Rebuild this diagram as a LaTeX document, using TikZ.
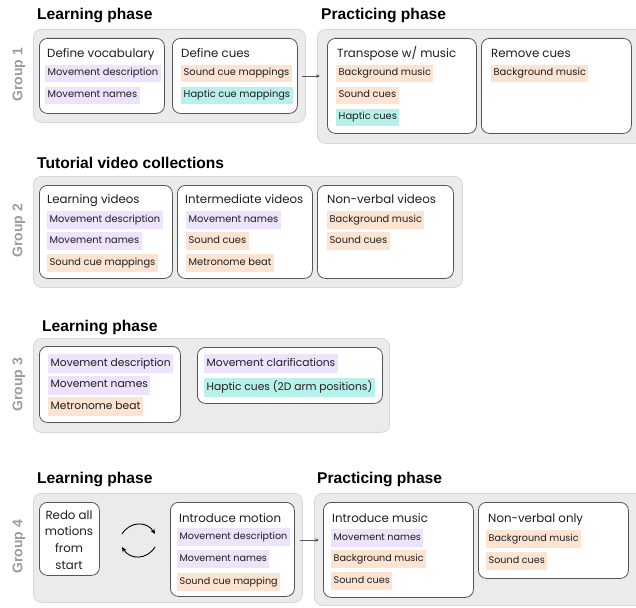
\documentclass[tikz,border=0pt]{standalone}
\usepackage{fontspec}
\setmainfont{Poppins}
\newfontfamily\headfont{Liberation Sans}
\usetikzlibrary{arrows.meta}
\definecolor{grpfill}{HTML}{EBEBEB}
\definecolor{grpdraw}{HTML}{D6D6D6}
\definecolor{carddraw}{HTML}{555555}
\definecolor{purp}{HTML}{EDE3FC}
\definecolor{orng}{HTML}{FDE3D1}
\definecolor{cyanhl}{HTML}{B8F0EC}
\definecolor{lblgray}{HTML}{9B9B9B}
\definecolor{txt}{HTML}{1E1E1E}
\newcommand\mkbox[6]{\node[#2, anchor=north west, minimum width=#5pt, minimum height=#6pt] (#1) at (#3,#4) {};}
\begin{document}
\begin{tikzpicture}[x=1pt,y=-1pt,
  grp/.style={fill=grpfill, draw=grpdraw, line width=0.8pt, rounded corners=8pt, inner sep=0pt},
  card/.style={fill=white, draw=carddraw, line width=0.8pt, rounded corners=8pt, inner sep=0pt},
  head/.style={anchor=base west, inner sep=0pt, font=\headfont\bfseries\fontsize{15.6}{17}\selectfont, text=black},
  grplbl/.style={rotate=90, inner sep=0pt, font=\headfont\bfseries\fontsize{14}{16}\selectfont, text=lblgray},
  ttl/.style={anchor=base west, inner sep=0pt, font=\fontsize{11.8}{13}\selectfont, text=txt},
  hl/.style={anchor=west, inner xsep=2.5pt, inner ysep=0pt, minimum height=17pt, text height=7pt, text depth=2pt, font=\fontsize{9.85}{10}\selectfont, text=txt},
  hlb/.style={hl, minimum height=19pt, font=\fontsize{10.7}{11}\selectfont},
  hlc/.style={hl, minimum height=18pt, font=\fontsize{9.6}{10}\selectfont},
  pu/.style={fill=purp}, or/.style={fill=orng}, cy/.style={fill=cyanhl},
  arr/.style={draw=carddraw, line width=0.8pt, -{Stealth[length=4pt,width=3.5pt]}},
  cyc/.style={draw=black, line width=0.9pt, -{Stealth[length=5pt,width=4.5pt]}}
]
\clip (0,0) rectangle (636,607);
% ---------------- Group 1
\node[head] (h1a) at (37,20) {Learning phase};
\node[head] (h1b) at (321,20) {Practicing phase};
\node[grplbl] (l1) at (19,75) {Group 1};
\mkbox{g1a}{grp}{33}{29}{272}{93}
\mkbox{g1b}{grp}{317}{29}{328}{114}
\mkbox{c1a}{card}{39}{38}{125}{75}
\mkbox{c1b}{card}{172}{38}{125}{75}
\mkbox{c1c}{card}{327}{38}{149}{95}
\mkbox{c1d}{card}{481}{38}{150}{95}
\node[ttl] (t1a) at (47,58) {Define vocabulary};
\node[ttl] (t1b) at (181,58) {Define cues};
\node[ttl] (t1c) at (337,58) {Transpose w/ music};
\node[ttl] (t1d) at (491,58) {Remove cues};
\node[hl,pu] (a11) at (45,73.5) {Movement description};
\node[hl,pu] (a12) at (45,95.5) {Movement names};
\node[hl,or] (a21) at (181,73.5) {Sound cue mappings};
\node[hl,cy] (a22) at (181,95.5) {Haptic cue mappings};
\node[hl,or] (a31) at (336,73.5) {Background music};
\node[hl,or] (a32) at (336,95.5) {Sound cues};
\node[hl,cy] (a33) at (336,117) {Haptic cues};
\node[hl,or] (a41) at (491,73.5) {Background music};
\coordinate (p1s) at (302,76);
\coordinate (p1e) at (320,76);
\draw[arr] (p1s) -- (p1e);
% ---------------- Group 2
\node[head] (h2) at (37,168) {Tutorial video collections};
\node[grplbl] (l2) at (19,231) {Group 2};
\mkbox{g2}{grp}{33}{176}{429}{111}
\mkbox{c2a}{card}{39}{185}{133}{93}
\mkbox{c2b}{card}{177}{185}{135}{93}
\mkbox{c2c}{card}{317}{185}{136}{93}
\node[ttl] (t2a) at (47,203) {Learning videos};
\node[ttl] (t2b) at (185,203) {Intermediate videos};
\node[ttl] (t2c) at (327,203) {Non-verbal videos};
\node[hl,pu,minimum height=18pt] (b11) at (47,219.5) {Movement description};
\node[hl,pu,minimum height=18pt] (b12) at (47,241) {Movement names};
\node[hl,or,minimum height=18pt] (b13) at (47,262.5) {Sound cue mappings};
\node[hl,pu,minimum height=18pt] (b21) at (186,219.5) {Movement names};
\node[hl,or,minimum height=18pt] (b22) at (186,241) {Sound cues};
\node[hl,or,minimum height=18pt] (b23) at (186,262.5) {Metronome beat};
\node[hl,or,minimum height=18pt] (b31) at (327,219.5) {Background music};
\node[hl,or,minimum height=18pt] (b32) at (327,241) {Sound cues};
% ---------------- Group 3
\node[head] (h3) at (42,331) {Learning phase};
\node[grplbl] (l3) at (19,385) {Group 3};
\mkbox{g3}{grp}{33}{338}{356}{94}
\mkbox{c3a}{card}{39}{346}{141}{76}
\mkbox{c3b}{card}{197}{347}{185}{56}
\node[hlb,pu] (d11) at (48,363.5) {Movement description};
\node[hlb,pu] (d12) at (48,385) {Movement names};
\node[hlb,or] (d13) at (48,406.5) {Metronome beat};
\node[hlb,pu] (d21) at (204,363.5) {Movement clarifications};
\node[hlb,cy] (d22) at (204,387.5) {Haptic cues (2D arm positions)};
% ---------------- Group 4
\node[head] (h4a) at (37,483) {Learning phase};
\node[head] (h4b) at (317,483) {Practicing phase};
\node[grplbl] (l4) at (19,547) {Group 4};
\mkbox{g4a}{grp}{33}{493}{269}{109}
\mkbox{g4b}{grp}{314}{493}{331}{112}
\mkbox{c4a}{card}{39}{502}{60}{73}
\mkbox{c4b}{card}{170}{502}{124}{94}
\mkbox{c4c}{card}{323}{502}{150}{95}
\mkbox{c4d}{card}{478}{502}{150}{76}
\node[align=center, inner sep=0pt, font=\fontsize{11.8}{16.7}\selectfont, text=txt] (t4a) at (69,540) {Redo all\\motions\\from\\start};
\node[ttl] (t4b) at (179,522) {Introduce motion};
\node[ttl] (t4c) at (332,522) {Introduce music};
\node[ttl] (t4d) at (488,522) {Non-verbal only};
\node[hlc,pu] (e11) at (177,537) {Movement description};
\node[hlc,pu] (e12) at (177,558.5) {Movement names};
\node[hlc,or] (e13) at (177,581.5) {Sound cue mapping};
\node[hlc,pu] (e21) at (331,537.5) {Movement names};
\node[hlc,or] (e22) at (331,559) {Background music};
\node[hlc,or] (e23) at (331,580.5) {Sound cues};
\node[hlc,or] (e31) at (486,539) {Background music};
\node[hlc,or] (e32) at (486,560.5) {Sound cues};
\coordinate (p4s) at (300,540);
\coordinate (p4e) at (319,540);
\draw[arr] (p4s) -- (p4e);
\coordinate (cy1s) at (122,534);
\coordinate (cy1e) at (155,534);
\coordinate (cy2s) at (155,547);
\coordinate (cy2e) at (122,547);
\draw[cyc] (cy1s) .. controls (130,521) and (147,521) .. (cy1e);
\draw[cyc] (cy2s) .. controls (147,560) and (130,560) .. (cy2e);
\end{tikzpicture}
\end{document}
